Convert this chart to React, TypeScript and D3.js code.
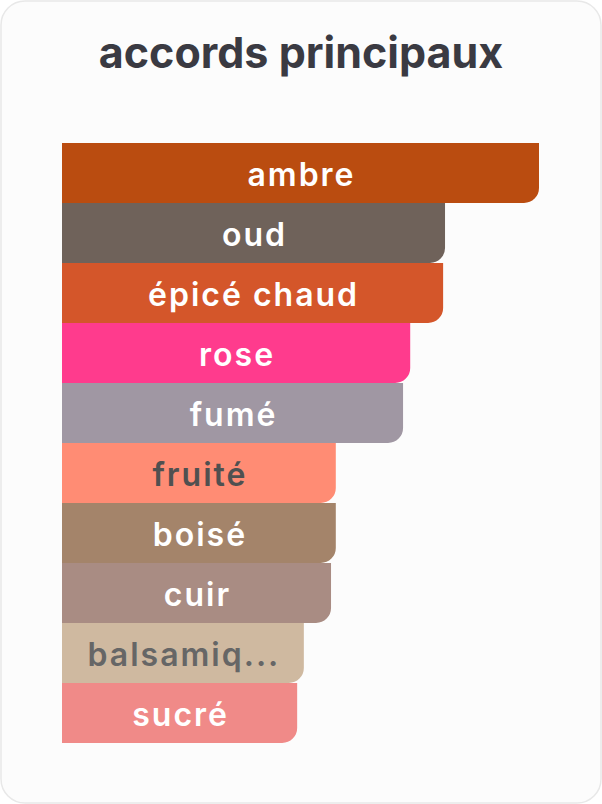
import React, { useEffect, useRef } from 'react';
import * as d3 from 'd3';

const accords = ['ambre', 'oud', 'épicé chaud', 'rose', 'fumé', 'fruité', 'boisé', 'cuir', 'balsamique', 'sucré'];
const values = [100, 80.3, 79.9, 73, 71.5, 57.4, 57.4, 56.4, 50.7, 49.3];
const colors = ['#BA4C10', '#6F625A', '#D4562A', '#FF3B8D', '#A097A3', '#FF8C74', '#A4846A', '#A98C83', '#CFB9A0', '#F08A88'];
const textColors = ['#fff', '#fff', '#fff', '#fff', '#fff', '#505050', '#fff', '#fff', '#666', '#fff'];

const W = 602;
const H = 804;

export default function App() {
  const svgRef = useRef<SVGSVGElement>(null);

  useEffect(() => {
    if (!svgRef.current) return;
    const svg = d3.select(svgRef.current);
    svg.selectAll('*').remove();

    svg.append('rect')
      .attr('x', 1).attr('y', 1)
      .attr('width', W - 2).attr('height', H - 2)
      .attr('rx', 24)
      .attr('fill', '#fcfcfc')
      .attr('stroke', '#e8e8e8')
      .attr('stroke-width', 1.5);

    svg.append('text')
      .attr('x', W / 2).attr('y', 68)
      .attr('text-anchor', 'middle')
      .attr('font-family', 'Inter, sans-serif')
      .attr('font-weight', 700)
      .attr('font-size', 43)
      .attr('fill', '#3a3a42')
      .text('accords principaux');

    const x = d3.scaleLinear().domain([0, 100]).range([62, 539]);
    const y = d3.scaleBand<string>().domain(accords).range([143, 743]).padding(0);
    const r = 15;
    const pad = 24;

    const rows = svg.selectAll('.bar')
      .data(accords)
      .enter()
      .append('g')
      .attr('class', 'bar');

    rows.append('path')
      .attr('d', (d, i) => {
        const x0 = x(0), x1 = x(values[i]);
        const y0 = y(d)!, y1 = y0 + y.bandwidth();
        return `M${x0},${y0}H${x1}V${y1 - r}A${r},${r} 0 0 1 ${x1 - r},${y1}H${x0}Z`;
      })
      .attr('fill', (d, i) => colors[i]);

    rows.append('text')
      .attr('x', (d, i) => (x(0) + x(values[i])) / 2 + 1)
      .attr('y', d => y(d)! + y.bandwidth() / 2)
      .attr('dy', '0.4em')
      .attr('text-anchor', 'middle')
      .attr('font-family', 'Inter, sans-serif')
      .attr('font-weight', 600)
      .attr('font-size', 32)
      .attr('letter-spacing', 2)
      .attr('fill', (d, i) => textColors[i])
      .text(d => d)
      .each(function (d, i) {
        // shorten labels that don't fit inside their bar
        const el = this as SVGTextElement;
        const maxW = x(values[i]) - x(0) - pad * 2;
        let s = d;
        while (el.getComputedTextLength() > maxW && s.length > 1) {
          s = s.slice(0, -1);
          el.textContent = s + '...';
        }
      });
  }, []);

  return (
    <svg
      ref={svgRef}
      width={W}
      height={H}
      style={{ position: 'absolute', left: 0, top: 0, background: '#fff' }}
    />
  );
}
